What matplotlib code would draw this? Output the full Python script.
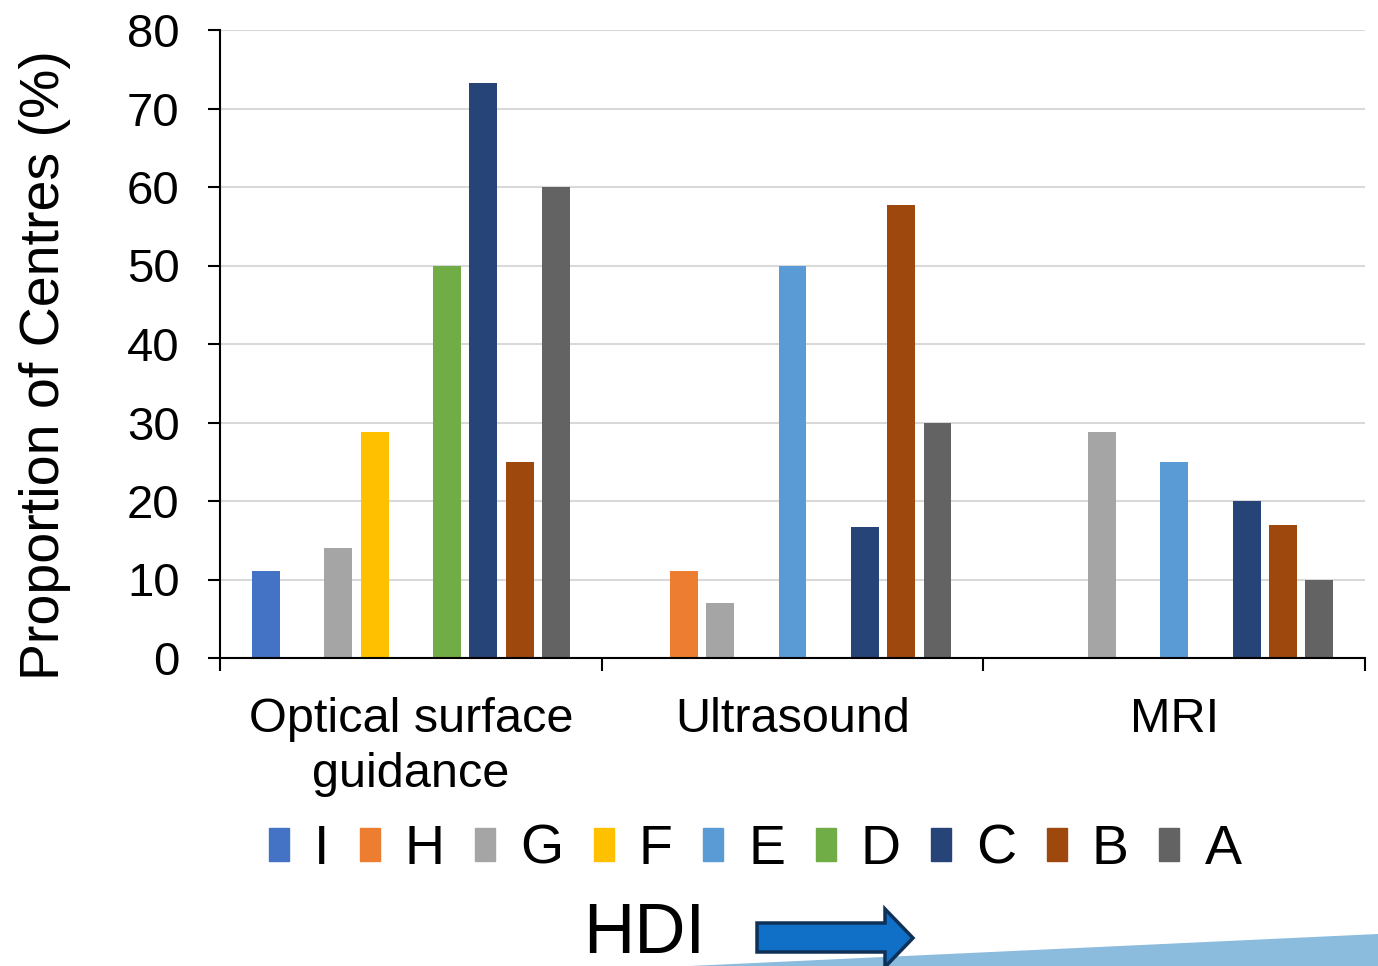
import matplotlib
matplotlib.use("Agg")
import matplotlib.pyplot as plt
import numpy as np
from matplotlib.patches import Patch, Polygon

plt.rcParams["font.family"] = ["Liberation Sans", "DejaVu Sans"]

# data
categories = ["Optical surface\nguidance", "Ultrasound", "MRI"]
series = ["I", "H", "G", "F", "E", "D", "C", "B", "A"]
colors = ["#4472C4", "#ED7D31", "#A5A5A5", "#FFC000", "#5B9BD5",
          "#70AD47", "#264478", "#9E480E", "#636363"]
# values per series, in category order (0 = no bar)
val_I = [11.1, 0, 0]
val_H = [0, 11.1, 0]
val_G = [14.0, 7.0, 28.8]
val_F = [28.8, 0, 0]
val_E = [0, 50.0, 25.0]
val_D = [50.0, 0, 0]
val_C = [73.3, 16.7, 20.0]
val_B = [25.0, 57.7, 16.9]
val_A = [60.0, 30.0, 10.0]
values = [val_I, val_H, val_G, val_F, val_E, val_D, val_C, val_B, val_A]
yticks = [0, 10, 20, 30, 40, 50, 60, 70, 80]

W, H = 1378, 966
fig = plt.figure(figsize=(W / 100, H / 100), dpi=100)
ax = fig.add_axes([220 / W, 1 - 658 / H, (1365 - 220) / W, (658 - 30) / H])

x = np.arange(len(categories))
slot = 0.095
width = 0.073
for j, (name, col, vals) in enumerate(zip(series, colors, values)):
    ax.bar(x + (j - 4) * slot, vals, width=width, color=col, label=name)

ax.set_xlim(-0.5, 2.5)
ax.set_ylim(0, 80)
ax.set_yticks(yticks)
ax.set_xticks(x)
ax.set_xticklabels(categories, fontsize=35, linespacing=1.3)
ax.set_xticks([-0.5, 0.5, 1.5, 2.5], minor=True)
ax.tick_params(axis="x", which="major", length=0, pad=28)
ax.tick_params(axis="x", which="minor", length=9, width=1.5, direction="out")
ax.tick_params(axis="y", labelsize=34, length=9, width=1.5, pad=20)
ax.grid(axis="y", color="#D9D9D9", linewidth=1.5)
ax.set_axisbelow(True)
for s in ["top", "right"]:
    ax.spines[s].set_visible(False)
for s in ["left", "bottom"]:
    ax.spines[s].set_linewidth(1.5)

fig.text(45 / W, 1 - 365 / H, "Proportion of Centres (%)", rotation=90,
         fontsize=40, ha="center", va="center")

handles = [Patch(color=c, label=n) for c, n in zip(colors, series)]
fig.legend(handles=handles, ncol=9, frameon=False, fontsize=40,
           loc="center", bbox_to_anchor=(755 / W, 1 - 850 / H),
           handlelength=0.36, handleheight=0.55, handletextpad=0.45,
           columnspacing=0.55, borderpad=0)

# HDI annotation with arrow and wedge
def px(xp, yp):
    return (xp / W, 1 - yp / H)

wedge = Polygon([px(690, 966), px(1378, 934), px(1378, 966)], closed=True,
                transform=fig.transFigure, facecolor="#8BBBDD", edgecolor="none")
fig.patches.append(wedge)
arrow = Polygon([px(757, 923), px(885, 923), px(885, 909), px(913, 938),
                 px(885, 967), px(885, 952), px(757, 952)], closed=True,
                transform=fig.transFigure, facecolor="#1070C8",
                edgecolor="#0F3057", linewidth=2.5)
fig.patches.append(arrow)
fig.text(583 / W, 1 - 953 / H, "HDI", fontsize=51, ha="left", va="baseline")

fig.savefig("out.png", dpi=100)
